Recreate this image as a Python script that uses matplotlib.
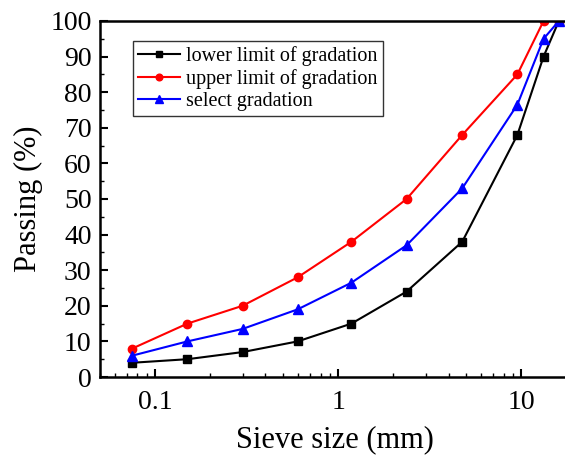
import matplotlib.pyplot as plt
from matplotlib.ticker import FixedLocator, LogLocator, NullFormatter, MultipleLocator

sieve = [0.075, 0.15, 0.3, 0.6, 1.18, 2.36, 4.75, 9.5, 13.2, 16]
lower = [4, 5, 7, 10, 15, 24, 38, 68, 90, 100]
upper = [8, 15, 20, 28, 38, 50, 68, 85, 100, 100]
select = [6, 10, 13.5, 19, 26.5, 37, 53, 76.5, 95, 100]

plt.rcParams['font.family'] = ['Liberation Serif', 'DejaVu Serif']

fig = plt.figure(figsize=(5.65, 4.61), dpi=100)
ax = fig.add_axes([100 / 565, 84 / 461, 470 / 565, 356 / 461])

ax.plot(sieve, lower, color='black', marker='s', markersize=6, linewidth=1.5,
        label='lower limit of gradation')
ax.plot(sieve, upper, color='red', marker='o', markersize=6, linewidth=1.5,
        label='upper limit of gradation')
ax.plot(sieve, select, color='blue', marker='^', markersize=7, linewidth=1.5,
        label='select gradation')

ax.set_xscale('log')
ax.set_xlim(0.05, 10 ** 1.265)
ax.set_ylim(0, 100)
ax.xaxis.set_major_locator(FixedLocator([0.1, 1, 10]))
ax.set_xticklabels(['0.1', '1', '10'])
ax.xaxis.set_minor_locator(LogLocator(base=10, subs=range(2, 10)))
ax.xaxis.set_minor_formatter(NullFormatter())
ax.yaxis.set_major_locator(MultipleLocator(10))
ax.yaxis.set_minor_locator(MultipleLocator(5))

ax.tick_params(which='major', direction='in', length=6, width=1.5, labelsize=20)
ax.tick_params(which='minor', direction='in', length=3, width=1)
ax.tick_params(axis='x', pad=9)
ax.tick_params(axis='y', pad=6)
for s in ax.spines.values():
    s.set_linewidth(1.8)
ax.spines['right'].set_visible(False)

ax.set_xlabel('Sieve size (mm)', fontsize=22, labelpad=8)
ax.set_ylabel('Passing (%)', fontsize=22, labelpad=5)

leg = ax.legend(loc='upper left', bbox_to_anchor=(0.07, 0.944), borderaxespad=0,
                fontsize=14.5, frameon=True, fancybox=False, edgecolor='black',
                handlelength=2.1, labelspacing=0.15, borderpad=0.25,
                handletextpad=0.3, markerscale=0.8)
leg.get_frame().set_linewidth(1.0)

fig.savefig('out.png', dpi=100)
